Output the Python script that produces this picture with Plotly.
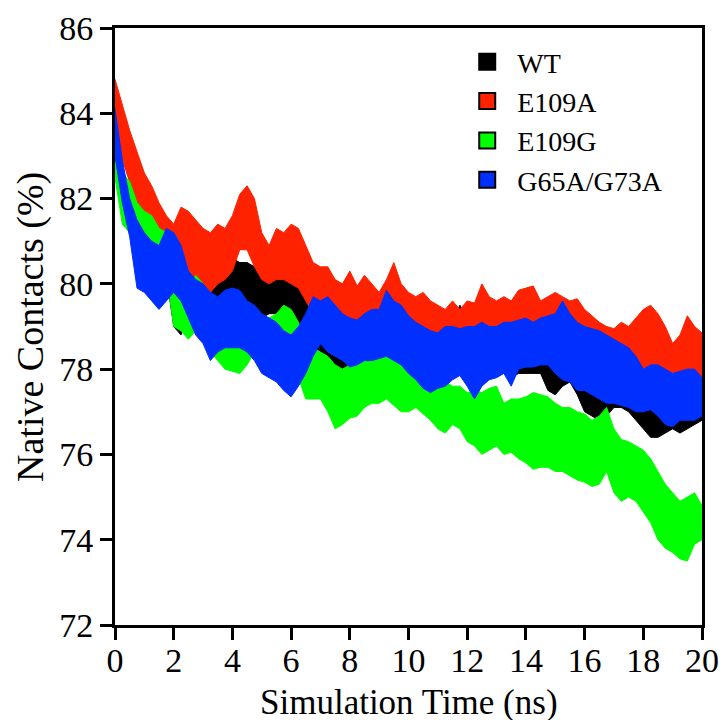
import plotly.graph_objects as go

# Sampling grid of the trajectory summary (ns)
time_ns = [i * 0.25 for i in range(81)]

# Upper / lower envelope of the native-contact fraction (%) for each system
wt_hi = [84.3, 83.8, 83.3, 82.9, 82.5, 82.1, 81.8, 81.5, 81.0, 80.6, 80.5, 80.4, 80.3, 80.1, 80.2, 80.4,
         80.6, 80.5, 80.5, 80.4, 80.2, 80.1, 80.2, 80.2, 80.2, 80.0, 79.9, 79.6, 79.4, 79.3, 79.3, 79.2,
         79.1, 79.2, 79.3, 79.3, 79.4, 79.5, 79.4, 79.3, 79.1, 79.0, 78.9, 78.9, 78.9, 79.0, 79.1, 79.5,
         79.2, 79.0, 79.0, 79.0, 79.0, 79.0, 79.0, 79.1, 79.1, 79.0, 79.0, 78.9, 78.8, 78.6, 78.5, 78.4,
         78.3, 78.2, 78.1, 78.2, 78.2, 78.3, 78.2, 78.1, 78.0, 77.9, 77.9, 78.0, 78.0, 77.9, 77.8, 77.8,
         77.7]
wt_lo = [83.6, 83.0, 82.4, 81.9, 81.4, 81.0, 80.6, 80.2, 79.0, 78.8, 79.3, 79.4, 79.3, 79.2, 79.2, 79.3,
         79.4, 79.5, 79.6, 79.3, 79.2, 79.3, 79.3, 79.2, 79.1, 79.0, 78.8, 78.5, 78.3, 78.2, 78.1, 78.0,
         77.9, 78.0, 78.1, 78.2, 78.2, 78.3, 78.2, 78.1, 77.9, 77.8, 77.7, 77.6, 77.7, 77.8, 77.9, 78.0,
         77.8, 77.7, 77.8, 77.8, 77.9, 77.9, 77.8, 77.9, 77.9, 77.9, 77.9, 77.5, 77.4, 77.6, 77.7, 77.4,
         77.0, 76.9, 76.8, 76.9, 77.1, 77.1, 77.0, 76.8, 76.6, 76.4, 76.4, 76.5, 76.6, 76.5, 76.6, 76.7,
         76.8]

e109a_hi = [84.8, 84.2, 83.6, 83.1, 82.6, 82.3, 81.9, 81.6, 81.4, 81.8, 81.7, 81.5, 81.3, 81.2, 81.4, 81.3,
            81.6, 82.1, 82.3, 82.0, 81.2, 80.9, 81.3, 81.2, 81.4, 81.3, 80.9, 80.5, 80.4, 80.4, 80.1, 80.0,
            80.3, 79.95, 80.2, 80.0, 79.8, 80.1, 80.5, 80.0, 79.8, 79.7, 79.8, 79.6, 79.5, 79.4, 79.6, 79.4,
            79.6, 79.55, 80.0, 79.7, 79.6, 79.7, 79.6, 79.85, 79.9, 79.95, 79.6, 79.7, 79.8, 79.7, 79.6, 79.65,
            79.4, 79.25, 79.1, 79.0, 78.95, 79.1, 79.0, 79.2, 79.4, 79.5, 79.3, 79.0, 78.6, 78.8, 79.25, 79.0,
            78.85]
e109a_lo = [83.5, 82.9, 82.4, 81.9, 81.4, 81.1, 80.8, 80.5, 80.3, 80.1, 80.0, 79.9, 79.85, 79.8, 80.0, 80.1,
            80.3, 80.8, 80.8, 80.4, 80.1, 80.0, 80.1, 80.1, 80.0, 79.9, 79.6, 79.3, 79.2, 79.2, 79.0, 79.0,
            79.1, 78.9, 79.0, 78.8, 78.7, 78.9, 79.0, 78.8, 78.6, 78.5, 78.5, 78.4, 78.3, 78.4, 78.5, 78.3,
            78.4, 78.4, 78.6, 78.5, 78.4, 78.5, 78.4, 78.6, 78.6, 78.6, 78.4, 78.4, 78.5, 78.4, 78.3, 78.3,
            78.1, 78.0, 77.9, 77.7, 77.6, 77.9, 77.8, 77.9, 78.0, 78.1, 78.0, 77.8, 77.7, 77.7, 77.9, 77.8,
            77.7]

e109g_hi = [83.3, 82.6, 82.4, 81.9, 81.7, 81.6, 81.3, 81.2, 80.4, 80.0, 79.9, 80.2, 80.0, 79.5, 79.2, 79.0,
            78.9, 78.8, 79.0, 78.9, 79.1, 79.2, 79.3, 79.5, 79.4, 79.1, 78.7, 78.5, 78.4, 78.3, 78.1, 78.0,
            78.1, 78.2, 78.3, 78.3, 78.35, 78.4, 78.3, 78.1, 78.0, 77.9, 77.8, 77.7, 77.6, 77.7, 77.6, 77.6,
            77.45, 77.5, 77.45, 77.55, 77.6, 77.2, 77.3, 77.3, 77.35, 77.45, 77.4, 77.35, 77.2, 77.1, 77.1, 77.0,
            76.95, 76.8, 76.9, 77.1, 76.6, 76.35, 76.3, 76.2, 76.1, 75.9, 75.6, 75.3, 75.1, 74.9, 75.0, 75.1,
            74.8]
e109g_lo = [82.5, 81.4, 81.2, 81.05, 80.9, 80.8, 80.7, 80.3, 79.0, 78.9, 78.7, 78.9, 78.7, 78.4, 78.2, 78.0,
            77.95, 77.9, 78.1, 78.4, 78.5, 78.5, 78.5, 78.6, 78.4, 77.8, 77.3, 77.3, 77.3, 77.0, 76.6, 76.7,
            76.85, 76.9, 77.1, 77.2, 77.2, 77.3, 77.15, 77.0, 77.0, 77.1, 76.95, 76.8, 76.6, 76.5, 76.7, 76.6,
            76.3, 76.2, 76.0, 76.1, 76.2, 76.0, 76.05, 75.9, 75.8, 75.65, 75.7, 75.7, 75.6, 75.6, 75.5, 75.4,
            75.35, 75.25, 75.3, 75.6, 75.1, 74.9, 75.0, 74.9, 74.65, 74.4, 74.0, 73.8, 73.7, 73.55, 73.5, 73.9,
            74.0]

g65a_hi = [84.1, 82.9, 82.0, 81.5, 81.2, 81.0, 80.9, 81.3, 81.2, 80.9, 80.3, 80.1, 80.0, 79.8, 79.7, 79.85,
           79.9, 79.85, 79.6, 79.5, 79.3, 79.2, 79.1, 78.9, 78.8, 79.0, 79.3, 79.7, 79.6, 79.7, 79.5, 79.3,
           79.2, 79.15, 79.3, 79.4, 79.4, 79.85, 79.6, 79.5, 79.25, 79.1, 79.0, 78.9, 78.85, 79.0, 79.0, 78.95,
           79.0, 79.0, 79.1, 79.0, 79.0, 79.1, 79.1, 79.15, 79.2, 79.1, 79.2, 79.25, 79.3, 79.6, 79.3, 79.1,
           79.0, 78.95, 78.9, 78.8, 78.7, 78.6, 78.5, 78.3, 78.0, 78.1, 78.1, 78.0, 77.9, 77.95, 78.0, 78.0,
           77.8]
g65a_lo = [83.0, 81.9, 81.1, 79.9, 79.8, 79.6, 79.4, 79.6, 79.8, 79.6, 79.2, 78.8, 78.6, 78.2, 78.4, 78.5,
           78.5, 78.5, 78.4, 78.2, 77.9, 77.8, 77.7, 77.5, 77.35, 77.6, 77.9, 78.3, 78.6, 78.4, 78.3, 78.2,
           78.05, 78.1, 78.2, 78.2, 78.25, 78.3, 78.2, 78.1, 77.9, 77.75, 77.55, 77.45, 77.55, 77.6, 77.75, 77.85,
           77.6, 77.3, 77.6, 77.75, 77.8, 77.9, 77.6, 78.0, 78.05, 78.05, 78.1, 78.1, 77.9, 77.75, 77.7, 77.5,
           77.5, 77.4, 77.3, 77.2, 77.2, 77.15, 77.1, 77.0, 77.0, 77.05, 76.9, 76.7, 76.65, 76.8, 76.8, 76.8,
           76.9]

systems = ["WT", "E109A", "E109G", "G65A/G73A"]
colors = ["#000000", "#ff2200", "#00ff00", "#0030ff"]
envelopes = [(wt_hi, wt_lo), (e109a_hi, e109a_lo), (e109g_hi, e109g_lo), (g65a_hi, g65a_lo)]

FONT = "Liberation Serif"
fig = go.Figure()

# Each trajectory drawn as the band it sweeps between its envelopes
for name, color, (hi, lo) in zip(systems, colors, envelopes):
    fig.add_trace(go.Scatter(
        x=time_ns + time_ns[::-1],
        y=hi + lo[::-1],
        mode="lines",
        fill="toself",
        fillcolor=color,
        line=dict(color=color, width=1),
        showlegend=False,
        hoverinfo="skip",
    ))

# Legend keys: coloured squares with a black outline
for name, color in zip(systems, colors):
    fig.add_trace(go.Scatter(
        x=[None], y=[None], mode="markers", name=name,
        marker=dict(symbol="square", size=23, color=color, line=dict(color="black", width=2)),
    ))

axis_common = dict(
    showline=True, linecolor="black", linewidth=3, mirror=True,
    ticks="outside", ticklen=12, tickwidth=3, tickcolor="black",
    showgrid=False, zeroline=False, automargin=False,
    tickfont=dict(family=FONT, size=34, color="black"),
)

fig.update_layout(
    width=728, height=720,
    margin=dict(l=115, r=26, t=28, b=95),
    paper_bgcolor="white", plot_bgcolor="white",
    font=dict(family=FONT, color="black"),
    xaxis=dict(range=[0, 20], tickvals=list(range(0, 21, 2)), ticklabelstandoff=-9, **axis_common),
    yaxis=dict(range=[72, 86], tickvals=list(range(72, 87, 2)), **axis_common),
    legend=dict(x=0.583, y=0.985, xanchor="left", yanchor="top",
                font=dict(family=FONT, size=28, color="black"),
                itemwidth=50, bgcolor="rgba(0,0,0,0)", borderwidth=0,
                tracegroupgap=0),
    annotations=[
        dict(text="Simulation Time (ns)", xref="paper", yref="paper", x=0.5, y=-0.1305,
             xanchor="center", yanchor="middle", showarrow=False,
             font=dict(family=FONT, size=35, color="black")),
        dict(text="Native Contacts (%)", xref="paper", yref="paper", x=-0.144, y=0.5,
             xanchor="center", yanchor="middle", textangle=-90, showarrow=False,
             font=dict(family=FONT, size=38, color="black")),
    ],
)

fig.write_html("out.html")
